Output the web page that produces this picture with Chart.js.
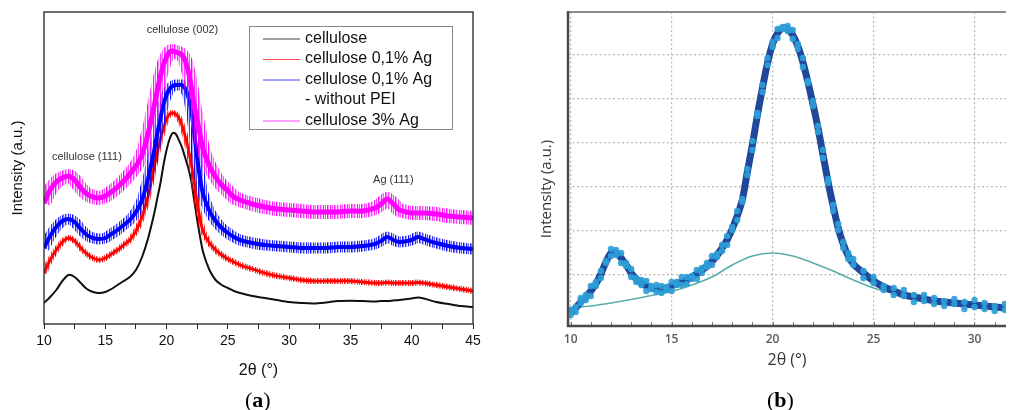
<!DOCTYPE html>
<html>
<head>
<meta charset="utf-8">
<script src="https://cdn.jsdelivr.net/npm/chart.js@4.4.1/dist/chart.umd.min.js"></script>
<style>
  html, body { margin: 0; padding: 0; background: #fff; }
  #wrap { position: relative; width: 1010px; height: 410px; overflow: hidden; }
  #panelA { position: absolute; left: 0; top: 0; }
  #panelB { position: absolute; left: 500px; top: 0; }
  .tag { position: absolute; top: 387px; font-family: "Liberation Serif", serif; font-size: 22px; color: #000; }
</style>
</head>
<body>
<div id="wrap">
  <canvas id="panelA" width="500" height="410"></canvas>
  <canvas id="panelB" width="510" height="410"></canvas>
  <div class="tag" style="left:245px">(<b>a</b>)</div>
  <div class="tag" style="left:767px">(<b>b</b>)</div>
</div>
<script>
// ---- panel (a): XRD patterns, intensity in arbitrary units ----
const aX = [10, 10.5, 11, 11.5, 12, 12.5, 13, 13.5, 14, 14.5, 15, 15.5, 16, 16.5, 17, 17.5, 18, 18.5, 19, 19.25, 19.5, 19.75, 20, 20.25, 20.5, 20.75, 21, 21.25, 21.5, 21.75, 22, 22.25, 22.5, 22.75, 23, 23.5, 24, 24.5, 25, 25.5, 26, 27, 28, 29, 30, 31, 32, 33, 34, 35, 36, 37, 37.5, 38, 38.5, 39, 40, 40.5, 41, 42, 43, 44, 45];
const aCellulose = [21, 27, 34, 43, 49, 47, 41, 35, 32, 31, 32, 35, 39, 43, 47, 54, 67, 86, 111, 126, 141, 159, 174, 185, 191, 190, 184, 177, 167, 157, 144, 124, 104, 86, 71, 54, 44, 39, 36, 33, 31, 28, 26, 24, 22, 21, 20.5, 21.5, 23, 23.3, 23, 22.5, 23, 23, 23.5, 24, 25.5, 26.5, 25.5, 22, 20, 18, 17];
const aAg01 = [51, 64, 74, 82, 86, 83, 76, 70, 66, 64, 66, 70, 74, 79, 84, 93, 107, 128, 158, 172, 185, 196, 205, 210, 211, 210, 206, 199, 189, 176, 161, 142, 121, 104, 92, 81, 74, 69, 65, 62, 59, 55, 51, 48, 46, 44, 43, 43, 43, 43, 42, 41, 41, 41.5, 41, 41, 41, 41.5, 41, 39, 37, 35, 33];
const aAg01NoPei = [76, 88, 97, 103, 105, 102, 95, 89, 86, 85, 86, 90, 94, 99, 104, 112, 124, 146, 174, 191, 206, 220, 229, 235, 238, 239, 239, 239, 236, 228, 214, 192, 166, 144, 129, 113, 103, 96, 91, 87, 84, 81, 79, 78, 77, 76, 76, 76, 77, 77, 78, 80, 83, 87, 84, 82, 84, 87, 85, 81, 78, 76, 75];
const aAg3 = [121, 134, 142, 146, 148, 144, 136, 130, 127, 126, 128, 132, 137, 143, 150, 158, 169, 191, 219, 234, 248, 259, 267, 272, 273, 272, 271, 269, 264, 254, 238, 219, 204, 188, 174, 158, 147, 139, 133, 127, 124, 120, 117, 115, 114, 113, 112, 112, 112, 113, 113, 116, 120, 125, 120, 114, 111, 111, 111, 110, 108, 107, 106];
const aTicks = [10, 12.5, 15, 17.5, 20, 22.5, 25, 27.5, 30, 32.5, 35, 37.5, 40, 42.5, 45];
const aLabels = ["cellulose", "cellulose 0,1% Ag", "cellulose 0,1% Ag\n- without PEI", "cellulose 3% Ag"];
const aColors = ["#000000", "#ff0000", "#0000ff", "#ff00ff"];
const aNoteText = ["cellulose (002)", "cellulose (111)", "Ag (111)"];
const aNoteX = [21.3, 13.5, 38.5];
const aNoteY = [294, 167, 144];

// ---- panel (b): peak fit of the cellulose pattern ----
const bX = [10, 10.25, 10.5, 10.75, 11, 11.25, 11.5, 11.75, 12, 12.25, 12.5, 12.75, 13, 13.25, 13.5, 13.75, 14, 14.25, 14.5, 14.75, 15, 15.25, 15.5, 15.75, 16, 16.25, 16.5, 16.75, 17, 17.25, 17.5, 17.75, 18, 18.25, 18.5, 18.75, 19, 19.25, 19.5, 19.75, 20, 20.25, 20.5, 20.75, 21, 21.25, 21.5, 21.75, 22, 22.25, 22.5, 22.75, 23, 23.25, 23.5, 23.75, 24, 24.5, 25, 25.5, 26, 26.5, 27, 27.5, 28, 28.5, 29, 29.5, 30, 30.5, 31, 31.5];
const bData = [13, 18, 24, 29, 35, 42, 52, 64, 73, 73, 68, 61, 53, 47, 43, 40, 38, 37, 37, 38, 40, 42, 44, 46, 49, 52, 56, 60, 65, 71, 78, 86, 97, 110, 126, 154, 181, 211, 238, 263, 282, 293, 298, 297, 291, 280, 264, 244, 222, 198, 171, 144, 120, 98, 82, 70, 62, 53, 45, 39, 35, 31, 29, 27, 25, 24, 23, 22, 21, 20, 19, 18];
const bDotsHi = [16, 19, 28, 31, 40, 44, 55, 65, 77, 76, 73, 63, 57, 48, 46, 45, 40, 41, 40, 39, 44, 44, 49, 49, 50, 56, 58, 63, 70, 72, 81, 90, 99, 115, 127, 157, 185, 213, 241, 268, 284, 297, 299, 300, 296, 282, 268, 245, 225, 200, 176, 147, 121, 102, 84, 73, 67, 55, 49, 40, 38, 36, 31, 31, 28, 25, 27, 24, 26, 23, 20, 22];
const bDotsLo = [11, 14, 23, 26, 30, 40, 48, 63, 70, 71, 63, 60, 49, 44, 41, 35, 37, 34, 33, 36, 35, 41, 41, 42, 47, 47, 53, 59, 61, 69, 75, 81, 96, 106, 124, 151, 176, 210, 234, 261, 279, 288, 297, 295, 287, 277, 259, 243, 220, 194, 168, 143, 115, 96, 78, 67, 61, 48, 43, 36, 31, 30, 24, 25, 22, 20, 22, 17, 19, 17, 15, 16];
const bFit = [13, 18, 24, 29, 35, 42, 52, 64, 73, 73, 68, 61, 53, 47, 43, 40, 38, 37, 37, 38, 40, 41, 42, 43.5, 46, 48.5, 52, 56, 60, 66, 73, 82, 93, 106, 124, 153, 181, 211, 238, 263, 282, 293, 298, 297, 291, 280, 264, 244, 222, 198, 171, 144, 120, 98, 82, 70, 62, 53, 45, 39, 35, 31, 29, 27, 25, 24, 23, 22, 21, 20, 19, 18];
const bBgX = [10.4, 11, 12, 13, 14, 15, 16, 17, 18, 19, 20, 21, 22, 23, 24, 25, 26, 27, 28, 29, 30, 31, 31.6];
const bBg = [19, 20, 23, 26.5, 30.5, 34.5, 41, 49, 61, 70, 73, 70, 63, 55, 46, 38, 33, 29, 26, 24, 22, 20.5, 20];
const bTicks = [10, 11, 12, 13, 14, 15, 16, 17, 18, 19, 20, 21, 22, 23, 24, 25, 26, 27, 28, 29, 30, 31];
const bGrid = [51, 95, 139, 183, 227, 271];

const pts = (xs, ys) => xs.map((x, i) => ({ x, y: ys[i] }));

// irregular vertical hairlines: the fuzzy halo around each noisy scan
const hairAlpha = [0.9, 0.2, 0.7, 0, 1, 0.4, 0.1, 0.8, 0.3, 0.6, 0, 0.9, 0.5, 0.15, 0.75, 0.35, 0];
function hairPattern(rgb) {
  const c = document.createElement("canvas");
  c.width = hairAlpha.length;
  c.height = 1;
  const g = c.getContext("2d");
  hairAlpha.forEach((a, i) => {
    g.fillStyle = `rgba(${rgb},${a})`;
    g.fillRect(i, 0, 1, 1);
  });
  return g.createPattern(c, "repeat");
}

// frame, peak labels and legend for panel (a)
const panelADecor = {
  id: "panelADecor",
  afterDraw(chart) {
    const { ctx, chartArea: a, scales } = chart;
    ctx.save();
    ctx.strokeStyle = "#222";
    ctx.lineWidth = 1.3;
    ctx.strokeRect(a.left, a.top, a.right - a.left, a.bottom - a.top);

    ctx.fillStyle = "#333";
    ctx.font = '11px "Liberation Sans", Arial, sans-serif';
    ctx.textAlign = "center";
    ctx.textBaseline = "middle";
    aNoteText.forEach((t, i) => {
      ctx.fillText(t, scales.x.getPixelForValue(aNoteX[i]), scales.y.getPixelForValue(aNoteY[i]));
    });

    // legend box
    const bx = 249, by = 26, bw = 203, bh = 103;
    ctx.fillStyle = "#fff";
    ctx.fillRect(bx, by, bw, bh);
    ctx.strokeStyle = "#8a8a8a";
    ctx.lineWidth = 1;
    ctx.strokeRect(bx + 0.5, by + 0.5, bw, bh);
    ctx.font = '16px "Liberation Sans", Arial, sans-serif';
    ctx.textAlign = "left";
    let row = by + 12.5;
    aLabels.forEach((label, i) => {
      ctx.strokeStyle = aColors[i];
      ctx.globalAlpha = 0.75;
      ctx.lineWidth = 1;
      ctx.beginPath();
      ctx.moveTo(263, row + 0.5);
      ctx.lineTo(300, row + 0.5);
      ctx.stroke();
      ctx.globalAlpha = 1;
      ctx.fillStyle = "#111";
      label.split("\n").forEach((line) => {
        ctx.fillText(line, 305, row);
        row += 20.5;
      });
    });
    ctx.restore();
  },
};

new Chart(document.getElementById("panelA"), {
  type: "line",
  data: {
    datasets: [
      { label: aLabels[3], data: pts(aX, aAg3), borderColor: "#ff00ff", borderWidth: 5, order: 0 },
      { data: pts(aX, aAg3), borderColor: hairPattern("255,0,255"), borderWidth: 14, order: 1 },
      { label: aLabels[2], data: pts(aX, aAg01NoPei), borderColor: "#0000ff", borderWidth: 4, order: 2 },
      { data: pts(aX, aAg01NoPei), borderColor: hairPattern("0,0,255"), borderWidth: 11, order: 3 },
      { label: aLabels[1], data: pts(aX, aAg01), borderColor: "#ff0000", borderWidth: 2.8, order: 4 },
      { data: pts(aX, aAg01), borderColor: hairPattern("255,0,0"), borderWidth: 6, order: 5 },
      { label: aLabels[0], data: pts(aX, aCellulose), borderColor: "#111", borderWidth: 2, order: 6 },
    ],
  },
  options: {
    responsive: false,
    animation: false,
    events: [],
    layout: { padding: { top: 12, right: 27, bottom: 25, left: 0 } },
    plugins: { legend: { display: false }, tooltip: { enabled: false } },
    elements: { point: { radius: 0 }, line: { tension: 0.3 } },
    scales: {
      x: {
        type: "linear",
        min: 10,
        max: 45,
        afterBuildTicks: (s) => { s.ticks = aTicks.map((v) => ({ value: v })); },
        afterFit: (s) => { s.height = 61; },
        ticks: {
          autoSkip: false,
          maxRotation: 0,
          padding: 4,
          color: "#111",
          font: { family: "Liberation Sans", size: 14 },
          callback: (v) => (v % 5 === 0 ? String(v) : ""),
        },
        grid: { drawOnChartArea: false, drawTicks: true, tickLength: 5, tickColor: "#222", color: "#222" },
        border: { display: false },
        title: {
          display: true,
          text: "2θ (°)",
          color: "#111",
          font: { family: "Liberation Sans", size: 16 },
          padding: { top: 0, bottom: 5 },
        },
      },
      y: {
        min: 0,
        max: 312,
        afterFit: (s) => { s.width = 44; },
        ticks: { display: false },
        grid: { display: false },
        border: { display: false },
        title: {
          display: true,
          text: "Intensity (a.u.)",
          color: "#111",
          font: { family: "Liberation Sans", size: 15 },
          padding: { top: 9, bottom: 0 },
        },
      },
    },
  },
  plugins: [panelADecor],
});

// frame, inner ticks and y title for panel (b)
const panelBDecor = {
  id: "panelBDecor",
  afterDraw(chart) {
    const { ctx, chartArea: a, scales } = chart;
    ctx.save();
    ctx.strokeStyle = "#777";
    ctx.lineWidth = 1;
    bTicks.forEach((v) => {
      const x = Math.round(scales.x.getPixelForValue(v)) + 0.5;
      ctx.beginPath();
      ctx.moveTo(x, a.bottom);
      ctx.lineTo(x, a.bottom - 4);
      ctx.stroke();
    });
    ctx.strokeStyle = "#8c8c8c";
    ctx.lineWidth = 2;
    ctx.beginPath();
    ctx.moveTo(a.left, a.top);
    ctx.lineTo(a.right, a.top);
    ctx.stroke();
    ctx.strokeStyle = "#4a4a4a";
    ctx.lineWidth = 2.5;
    ctx.beginPath();
    ctx.moveTo(a.left, a.top - 1);
    ctx.lineTo(a.left, a.bottom);
    ctx.lineTo(a.right, a.bottom);
    ctx.stroke();

    ctx.translate(47, 189);
    ctx.rotate(-Math.PI / 2);
    ctx.fillStyle = "#333";
    ctx.font = '15px "Open Sans", sans-serif';
    ctx.textAlign = "center";
    ctx.textBaseline = "middle";
    ctx.fillText("Intensity (a.u.)", 0, 0);
    ctx.restore();
  },
};

const gridGray = "#b9b9b9";
const lightDot = "rgba(45,158,216,0.92)";

new Chart(document.getElementById("panelB"), {
  type: "line",
  data: {
    datasets: [
      { data: pts(bX, bDotsHi), showLine: false, pointRadius: 3.2, pointBackgroundColor: lightDot, pointBorderWidth: 0, order: 0 },
      { data: pts(bX, bDotsLo), showLine: false, pointRadius: 3.2, pointBackgroundColor: lightDot, pointBorderWidth: 0, order: 0 },
      { data: pts(bX, bData), borderColor: "#20479a", borderWidth: 7, pointRadius: 0, order: 1 },
      { data: pts(bX, bFit), borderColor: "#d46bc8", borderWidth: 1.5, pointRadius: 0, order: 2 },
      { data: pts(bBgX, bBg), borderColor: "#5aaea8", borderWidth: 1.6, pointRadius: 0, order: 3 },
    ],
  },
  options: {
    responsive: false,
    animation: false,
    events: [],
    layout: { padding: { top: 12, right: 0, bottom: 0, left: 0 } },
    plugins: { legend: { display: false }, tooltip: { enabled: false } },
    elements: { line: { tension: 0.3 } },
    scales: {
      x: {
        type: "linear",
        min: 9.87,
        max: 31.56,
        afterBuildTicks: (s) => { s.ticks = bTicks.map((v) => ({ value: v })); },
        afterFit: (s) => { s.height = 84; },
        ticks: {
          autoSkip: false,
          maxRotation: 0,
          padding: 6,
          color: "#5a5a5a",
          font: { family: "Open Sans", size: 12, weight: "600" },
          callback: (v) => (v % 5 === 0 ? String(v) : ""),
        },
        grid: {
          drawTicks: false,
          color: (ctx) => (ctx.tick && ctx.tick.value % 5 === 0 ? gridGray : "rgba(0,0,0,0)"),
          lineWidth: 1.2,
          borderDash: [2, 2.5],
        },
        border: { display: false, dash: [2, 2.5] },
        title: {
          display: true,
          text: "2θ (°)",
          color: "#333",
          font: { family: "Open Sans", size: 16 },
          padding: { top: 0, bottom: 40 },
        },
      },
      y: {
        min: 0,
        max: 314,
        afterBuildTicks: (s) => { s.ticks = bGrid.map((v) => ({ value: v })); },
        afterFit: (s) => { s.width = 68; },
        ticks: { display: false },
        grid: { drawTicks: false, color: gridGray, lineWidth: 1.2, borderDash: [2, 2.5] },
        border: { display: false, dash: [2, 2.5] },
      },
    },
  },
  plugins: [panelBDecor],
});
</script>
</body>
</html>
